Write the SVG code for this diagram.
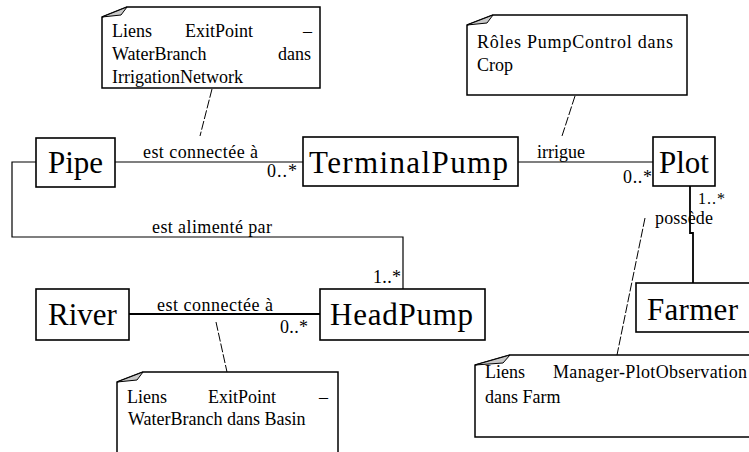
<svg xmlns="http://www.w3.org/2000/svg" width="749" height="452" viewBox="0 0 749 452">
<style>
.box{fill:#fff;stroke:#000;stroke-width:1.6}
.note{fill:#fff;stroke:#000;stroke-width:1.5}
.fold{fill:#c8c8c8;stroke:#000;stroke-width:1}
.big{font-family:"Liberation Serif",serif;font-size:31px;fill:#000}
.lbl{font-family:"Liberation Serif",serif;font-size:18px;fill:#000}
.sm{font-family:"Liberation Serif",serif;font-size:16px;fill:#000}
.conn{fill:none;stroke:#000;stroke-width:1.2}
.dash{fill:none;stroke:#000;stroke-width:1;stroke-dasharray:9 2}
</style>
<rect width="749" height="452" fill="#fff"/>
<g id="connectors">
<line class="conn" x1="115" y1="162" x2="303" y2="162"/>
<polyline class="conn" points="36,162 12,162 12,237 403,237 403,289"/>
<line class="conn" x1="518" y1="162" x2="653" y2="162"/>
<line class="conn" x1="129" y1="314" x2="320" y2="314" style="stroke-width:2"/>
<polyline class="conn" points="690,186 690,233 693,233 693,283" style="stroke-width:1.8"/>
<line class="dash" x1="212" y1="89" x2="200" y2="136"/>
<line class="dash" x1="575" y1="96" x2="562" y2="136"/>
<line class="dash" x1="216" y1="322" x2="227" y2="372"/>
<line class="dash" x1="645" y1="218" x2="617" y2="355"/>
<text class="lbl" x="143" y="158" textLength="115">est connectée à</text>
<text class="lbl" x="267" y="177" textLength="30">0..*</text>
<text class="lbl" x="152" y="233" textLength="120">est alimenté par</text>
<text class="lbl" x="373" y="283" textLength="28">1..*</text>
<text class="lbl" x="537" y="158" textLength="48">irrigue</text>
<text class="lbl" x="623" y="183" textLength="29">0..*</text>
<text class="sm" x="698" y="204" textLength="27">1..*</text>
<text class="lbl" x="655" y="224" textLength="58">possède</text>
<text class="lbl" x="157" y="311" textLength="116">est connectée à</text>
<text class="lbl" x="280" y="333" textLength="28">0..*</text>
</g>
<g id="Pipe">
<rect class="box" x="36" y="138" width="79" height="49"/>
<text class="big" x="75.5" y="173" text-anchor="middle">Pipe</text>
</g>
<g id="TerminalPump">
<rect class="box" x="303" y="137" width="215" height="49"/>
<text class="big" x="309" y="173" textLength="199">TerminalPump</text>
</g>
<g id="Plot">
<rect class="box" x="653" y="137" width="62" height="49"/>
<text class="big" x="684" y="173" text-anchor="middle">Plot</text>
</g>
<g id="River">
<rect class="box" x="36" y="289" width="93" height="51"/>
<text class="big" x="82.5" y="325" text-anchor="middle">River</text>
</g>
<g id="HeadPump">
<rect class="box" x="320" y="289" width="165" height="51"/>
<text class="big" x="330" y="325" textLength="143">HeadPump</text>
</g>
<g id="Farmer">
<rect class="box" x="636" y="283" width="120" height="49"/>
<text class="big" x="647" y="320" textLength="91">Farmer</text>
</g>
<g id="note1">
<path class="note" d="M127,7 L320,7 L320,88 L102,88 L102,17 Z"/>
<path class="fold" d="M102,17 L127,7 L121,15 Z"/>
<text class="lbl" x="112" y="37">Liens</text>
<text class="lbl" x="185" y="37">ExitPoint</text>
<text class="lbl" x="312" y="37" text-anchor="end">–</text>
<text class="lbl" x="112" y="60">WaterBranch</text>
<text class="lbl" x="311" y="60" text-anchor="end">dans</text>
<text class="lbl" x="112" y="83">IrrigationNetwork</text>
</g>
<g id="note2">
<path class="note" d="M493,15 L687,15 L687,95 L467,95 L467,25 Z"/>
<path class="fold" d="M467,25 L493,15 L487,23 Z"/>
<text class="lbl" x="477" y="48" textLength="196">Rôles PumpControl dans</text>
<text class="lbl" x="477" y="71">Crop</text>
</g>
<g id="note3">
<path class="note" d="M143,372 L338,372 L338,460 L117,460 L117,382 Z"/>
<path class="fold" d="M117,382 L143,372 L137,380 Z"/>
<text class="lbl" x="127" y="403">Liens</text>
<text class="lbl" x="208" y="403">ExitPoint</text>
<text class="lbl" x="328" y="403" text-anchor="end">–</text>
<text class="lbl" x="128" y="425">WaterBranch dans Basin</text>
</g>
<g id="note4">
<path class="note" d="M510,355 L760,355 L760,437 L475,437 L475,365 Z"/>
<path class="fold" d="M475,365 L510,355 L503,363 Z"/>
<text class="lbl" x="485" y="378">Liens</text>
<text class="lbl" x="553" y="378" textLength="194">Manager-PlotObservation</text>
<text class="lbl" x="485" y="403">dans Farm</text>
</g>
</svg>
